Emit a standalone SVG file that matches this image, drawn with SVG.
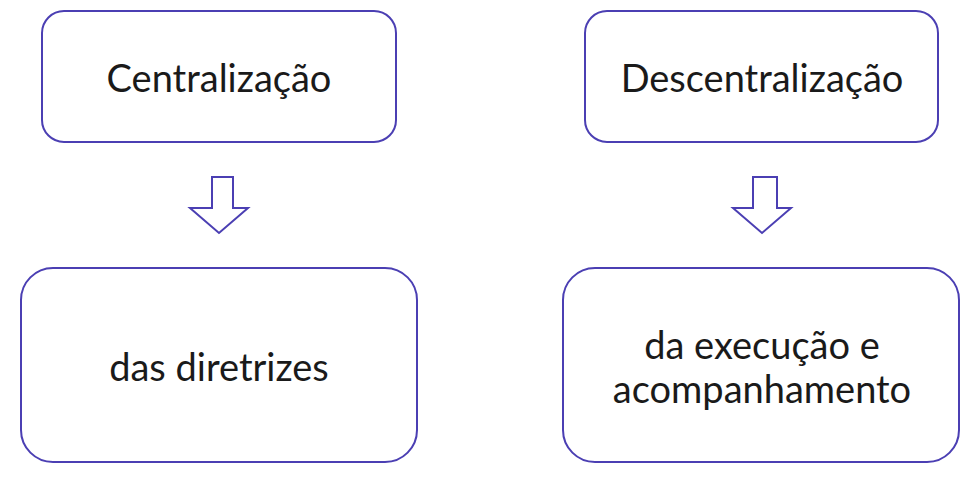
<svg xmlns="http://www.w3.org/2000/svg" width="978" height="478" viewBox="0 0 978 478">
<style>
.box{fill:#ffffff;stroke:#4b3fb3;stroke-width:2}
.arr{fill:#ffffff;stroke:#4b3fb3;stroke-width:2;stroke-linejoin:miter}
text{font-family:Lato,"Noto Sans",sans-serif;font-size:38px;fill:#1a1a1a;text-anchor:middle}
</style>
<rect width="978" height="478" fill="#ffffff"/>
<g id="centralizacao">
<rect class="box" x="42" y="11" width="354" height="131" rx="22"/>
<text x="219" y="92">Centralização</text>
</g>
<g id="descentralizacao">
<rect class="box" x="585" y="11" width="353" height="131" rx="22"/>
<text x="762" y="92">Descentralização</text>
</g>
<g id="diretrizes">
<rect class="box" x="21" y="268" width="396" height="194" rx="32"/>
<text x="219" y="381">das diretrizes</text>
</g>
<g id="execucao">
<rect class="box" x="563" y="268" width="396" height="194" rx="32"/>
<text x="762" y="359">da execução e</text>
<text x="762" y="403">acompanhamento</text>
</g>
<g id="connectors">
<path class="arr" d="M212,177 H233 V208 H248 L219,233 L190,208 H212 Z"/>
<path class="arr" d="M753,177 H777 V208 H791 L762,233 L733,208 H753 Z"/>
</g>
</svg>
